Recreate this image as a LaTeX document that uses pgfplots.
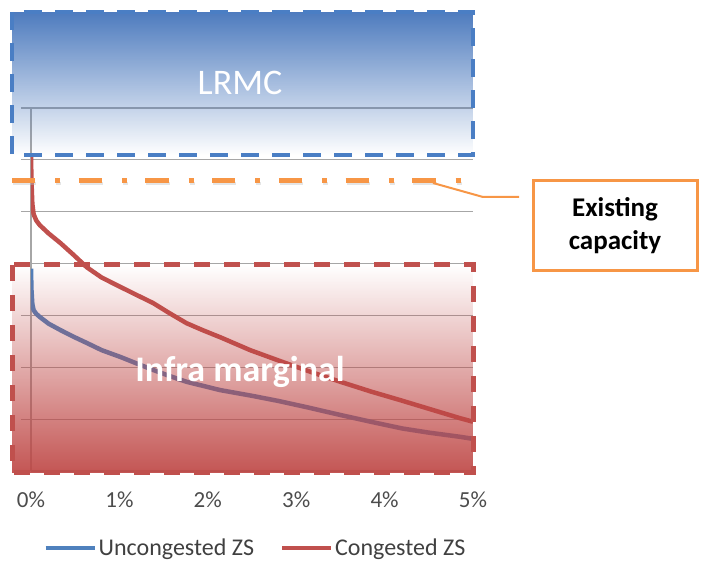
\documentclass[border=0pt]{standalone}
\usepackage{fontspec}
\setmainfont{Carlito}
\usepackage{pgfplots}
\pgfplotsset{compat=1.18}
\usetikzlibrary{fadings}
\definecolor{cblue}{HTML}{4F81BD}
\definecolor{cred}{HTML}{C0504D}
\definecolor{corange}{HTML}{F79646}
\definecolor{gridgray}{HTML}{A6A6A6}
\definecolor{lrmc}{HTML}{4877BC}
\definecolor{infra}{HTML}{BE4644}
\definecolor{bluedash}{HTML}{4A7EC4}
\definecolor{reddash}{HTML}{C0504D}
\tikzfading[name=fadeblue, top color=transparent!3, middle color=transparent!45, bottom color=transparent!100]
\tikzfading[name=fadered, top color=transparent!100, middle color=transparent!45, bottom color=transparent!8]
\begin{document}
\begin{tikzpicture}[x=1pt,y=1pt]
\begin{axis}[
  at={(31pt,94pt)}, anchor=south west, scale only axis,
  width=442pt, height=363pt,
  xmin=0, xmax=5, ymin=0, ymax=7,
  axis x line=bottom, axis y line=left,
  axis line style={gridgray, line width=1.2pt, -},
  ytick={1,...,7}, yticklabels={},
  ymajorgrids, grid style={gridgray, line width=1.2pt},
  tick align=outside, major tick length=10pt,
  tick style={gridgray, line width=1.2pt},
  xtick style={draw=none},
  xtick={0,1,2,3,4,5},
  xticklabels={0\%,1\%,2\%,3\%,4\%,5\%},
  /pgf/number format/assume math mode=true,
  xticklabel style={font=\fontsize{23}{27}\selectfont, text=black!70, anchor=center, yshift=-19pt},
  legend columns=2,
  legend style={at={(0.508,-0.212)}, anchor=center, draw=none, fill=none,
    font=\fontsize{24}{28}\selectfont, text=black!75,
    /tikz/every even column/.append style={column sep=24pt}},
  legend image code/.code={\draw[#1,line width=4pt] (0pt,0pt) -- (49pt,0pt);},
]
\addplot[cblue, line width=4.5pt, line join=round] coordinates {
(0,3.9) (0.005,3.5) (0.015,3.22) (0.03,3.10) (0.06,3.03) (0.1,2.97) (0.2,2.84) (0.33,2.72) (0.48,2.59) (0.63,2.47) (0.8,2.33) (1.01,2.20) (1.2,2.07) (1.38,1.95) (1.57,1.83) (1.76,1.72) (1.95,1.64) (2.14,1.56) (2.5,1.45) (2.8,1.35) (3.12,1.23) (3.5,1.08) (3.87,0.94) (4.2,0.82) (4.5,0.74) (4.85,0.66) (5,0.62)
};
\addlegendentry{Uncongested ZS}
\addplot[cred, line width=4.5pt, line join=round] coordinates {
(0,6.1) (0.005,5.6) (0.015,5.15) (0.03,4.95) (0.06,4.83) (0.1,4.74) (0.2,4.58) (0.33,4.40) (0.48,4.17) (0.63,3.93) (0.8,3.73) (1.01,3.55) (1.2,3.39) (1.38,3.24) (1.57,3.04) (1.76,2.85) (1.95,2.71) (2.14,2.58) (2.48,2.33) (2.85,2.10) (3.2,1.89) (3.5,1.72) (3.85,1.53) (4.17,1.37) (4.5,1.20) (4.85,1.02) (5,0.95)
};
\addlegendentry{Congested ZS}
\end{axis}
% LRMC box
\fill[lrmc, path fading=fadeblue] (12,553) rectangle (473,410);
\draw[bluedash, line width=4.5pt, dash pattern=on 18pt off 13pt] (12,553) rectangle (473,410);
\node[text=white, font=\fontsize{36}{40}\selectfont] at (240,482) {LRMC};
% Infra marginal box
\fill[infra, path fading=fadered] (12,300) rectangle (473,92);
\draw[reddash, line width=5pt, dash pattern=on 16pt off 14pt] (12,300) rectangle (473,92);
\node[text=white, font=\bfseries\fontsize{36}{40}\selectfont] at (240,193) {Infra marginal};
% Existing capacity line
\draw[black!25, opacity=0.4, line width=3pt, dash pattern=on 23.3pt off 20pt on 5pt off 18.4pt] (13,381.5) -- (463,381.5);
\draw[corange, line width=5pt, dash pattern=on 23.3pt off 20pt on 5pt off 18.4pt] (12,384) -- (462,384);
\draw[corange, line width=2pt] (433,382) -- (483,368) -- (519,368);
\draw[corange, line width=3pt] (533,384) rectangle (697,294);
\node[align=center, font=\bfseries\fontsize{27}{33}\selectfont, text=black] at (615,339) {Existing\\capacity};
\pgfresetboundingbox
\path (0,0) rectangle (702,565);
\end{tikzpicture}
\end{document}
